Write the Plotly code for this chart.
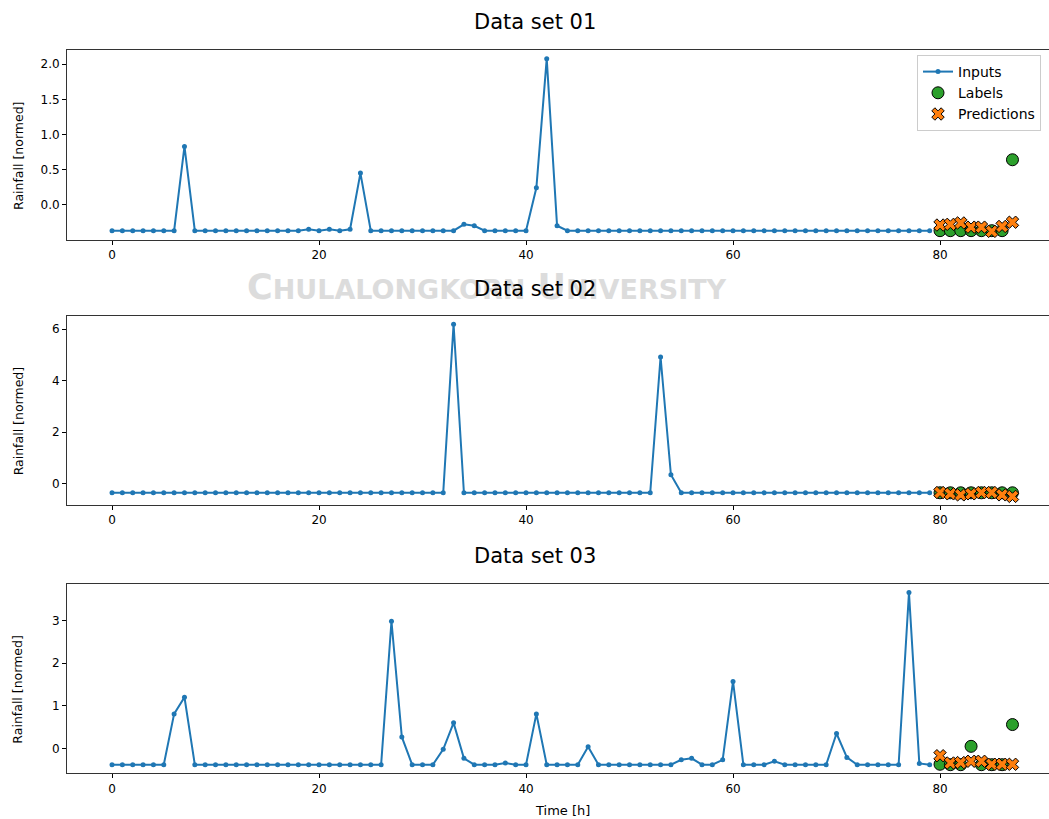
import plotly.graph_objects as go

# ---- data -------------------------------------------------------------
input_steps = list(range(0, 80))
label_steps = list(range(80, 88))

inputs_01 = [
    -0.37, -0.37, -0.37, -0.37, -0.37, -0.37, -0.37, 0.83, -0.37, -0.37,
    -0.37, -0.37, -0.37, -0.37, -0.37, -0.37, -0.37, -0.37, -0.37, -0.35,
    -0.37, -0.35, -0.37, -0.35, 0.45, -0.37, -0.37, -0.37, -0.37, -0.37,
    -0.37, -0.37, -0.37, -0.37, -0.28, -0.30, -0.37, -0.37, -0.37, -0.37,
    -0.37, 0.24, 2.08, -0.30, -0.37, -0.37, -0.37, -0.37, -0.37, -0.37,
    -0.37, -0.37, -0.37, -0.37, -0.37, -0.37, -0.37, -0.37, -0.37, -0.37,
    -0.37, -0.37, -0.37, -0.37, -0.37, -0.37, -0.37, -0.37, -0.37, -0.37,
    -0.37, -0.37, -0.37, -0.37, -0.37, -0.37, -0.37, -0.37, -0.37, -0.37,
]
labels_01 = [-0.37, -0.37, -0.37, -0.37, -0.37, -0.37, -0.37, 0.64]
preds_01 = [-0.29, -0.28, -0.26, -0.32, -0.32, -0.38, -0.31, -0.25]

inputs_02 = [
    -0.35, -0.35, -0.35, -0.35, -0.35, -0.35, -0.35, -0.35, -0.35, -0.35,
    -0.35, -0.35, -0.35, -0.35, -0.35, -0.35, -0.35, -0.35, -0.35, -0.35,
    -0.35, -0.35, -0.35, -0.35, -0.35, -0.35, -0.35, -0.35, -0.35, -0.35,
    -0.35, -0.35, -0.35, 6.19, -0.35, -0.35, -0.35, -0.35, -0.35, -0.35,
    -0.35, -0.35, -0.35, -0.35, -0.35, -0.35, -0.35, -0.35, -0.35, -0.35,
    -0.35, -0.35, -0.35, 4.92, 0.35, -0.35, -0.35, -0.35, -0.35, -0.35,
    -0.35, -0.35, -0.35, -0.35, -0.35, -0.35, -0.35, -0.35, -0.35, -0.35,
    -0.35, -0.35, -0.35, -0.35, -0.35, -0.35, -0.35, -0.35, -0.35, -0.35,
]
labels_02 = [-0.35, -0.35, -0.35, -0.35, -0.35, -0.35, -0.35, -0.35]
preds_02 = [-0.34, -0.39, -0.43, -0.39, -0.34, -0.34, -0.43, -0.49]

inputs_03 = [
    -0.38, -0.38, -0.38, -0.38, -0.38, -0.38, 0.81, 1.20, -0.38, -0.38,
    -0.38, -0.38, -0.38, -0.38, -0.38, -0.38, -0.38, -0.38, -0.38, -0.38,
    -0.38, -0.38, -0.38, -0.38, -0.38, -0.38, -0.38, 2.98, 0.27, -0.38,
    -0.38, -0.38, -0.02, 0.60, -0.23, -0.38, -0.38, -0.38, -0.34, -0.38,
    -0.38, 0.81, -0.38, -0.38, -0.38, -0.38, 0.04, -0.38, -0.38, -0.38,
    -0.38, -0.38, -0.38, -0.38, -0.38, -0.265, -0.23, -0.38, -0.38, -0.265,
    1.57, -0.38, -0.38, -0.38, -0.30, -0.38, -0.38, -0.38, -0.38, -0.38,
    0.35, -0.21, -0.38, -0.38, -0.38, -0.38, -0.38, 3.65, -0.35, -0.38,
]
labels_03 = [-0.37, -0.38, -0.38, 0.05, -0.38, -0.38, -0.38, 0.56]
preds_03 = [-0.17, -0.34, -0.33, -0.30, -0.30, -0.37, -0.37, -0.37]

panel_titles = ["Data set 01", "Data set 02", "Data set 03"]
y_ticks = [[0.0, 0.5, 1.0, 1.5, 2.0], [0, 2, 4, 6], [0, 1, 2, 3]]
y_ticktext = [["0.0", "0.5", "1.0", "1.5", "2.0"], ["0", "2", "4", "6"], ["0", "1", "2", "3"]]
x_ticks = [0, 20, 40, 60, 80]

series = [
    (inputs_01, labels_01, preds_01),
    (inputs_02, labels_02, preds_02),
    (inputs_03, labels_03, preds_03),
]

# ---- layout geometry (pixels of a 1049 x 819 page) --------------------
W, H = 1049, 819
x_left_px = 67
panel_px = [(50, 240), (315.7, 505), (584, 773.3)]   # top, bottom
title_px = [22, 289, 556]

BLUE = "#1f77b4"
GREEN = "#2ca02c"
ORANGE = "#ff7f0e"
FONT = "DejaVu Sans"

fig = go.Figure()

# faint institutional watermark behind the middle panel
fig.add_annotation(
    x=487 / W, y=1 - 287 / H, xref="paper", yref="paper",
    text="<b>C<span style='font-size:27px'>HULALONGKORN</span> U<span style='font-size:27px'>NIVERSITY</span></b>",
    showarrow=False, font=dict(family=FONT, size=35, color="#dcdcdc"),
    xanchor="center", yanchor="middle",
)

for i, (inp, lab, pred) in enumerate(series):
    n = i + 1
    xa = "x" if n == 1 else f"x{n}"
    ya = "y" if n == 1 else f"y{n}"
    show = n == 1
    fig.add_trace(go.Scatter(
        x=input_steps, y=inp, xaxis=xa, yaxis=ya, name="Inputs",
        mode="lines+markers", line=dict(color=BLUE, width=2),
        marker=dict(color=BLUE, size=5), showlegend=show,
    ))
    fig.add_trace(go.Scatter(
        x=label_steps, y=lab, xaxis=xa, yaxis=ya, name="Labels",
        mode="markers",
        marker=dict(color=GREEN, size=12, symbol="circle",
                    line=dict(color="black", width=1)),
        showlegend=show,
    ))
    fig.add_trace(go.Scatter(
        x=label_steps, y=pred, xaxis=xa, yaxis=ya, name="Predictions",
        mode="markers",
        marker=dict(color=ORANGE, size=11, symbol="x",
                    line=dict(color="black", width=1)),
        showlegend=show,
    ))

    top, bot = panel_px[i]
    pad = 0.05
    ymin = min(inp + lab + pred)
    ymax = max(inp + lab + pred)
    span = ymax - ymin
    x_unit = 10.35
    x0 = -4.35
    x1 = x0 + (W - x_left_px) / x_unit

    axis_font = dict(family=FONT, size=12, color="black")
    fig.update_layout(**{
        ("xaxis" if n == 1 else f"xaxis{n}"): dict(
            domain=[x_left_px / W, 1.0], anchor=ya, range=[x0, x1],
            tickvals=x_ticks, ticks="outside", ticklen=4, tickcolor="black",
            showline=True, mirror=True, linecolor="#333333", linewidth=1,
            showgrid=False, zeroline=False, tickfont=axis_font,
        ),
        ("yaxis" if n == 1 else f"yaxis{n}"): dict(
            domain=[1 - bot / H, 1 - top / H], anchor=xa,
            range=[ymin - pad * span, ymax + pad * span],
            tickvals=y_ticks[i], ticktext=y_ticktext[i],
            ticks="outside", ticklen=4, tickcolor="black",
            showline=True, linecolor="#333333", linewidth=1,
            showgrid=False, zeroline=False, tickfont=axis_font,
        ),
    })

    fig.add_annotation(
        x=535 / W, y=1 - title_px[i] / H, xref="paper", yref="paper",
        text=panel_titles[i], showarrow=False,
        font=dict(family=FONT, size=21, color="black"),
        xanchor="center", yanchor="middle",
    )
    fig.add_annotation(
        x=18 / W, y=1 - ((top + bot) / 2 + 11) / H, xref="paper", yref="paper",
        text="Rainfall [normed]", showarrow=False, textangle=-90,
        font=dict(family=FONT, size=12.5, color="black"),
        xanchor="center", yanchor="middle",
    )

fig.add_annotation(
    x=562 / W, y=1 - 810 / H, xref="paper", yref="paper",
    text="Time [h]", showarrow=False,
    font=dict(family=FONT, size=13, color="black"),
    xanchor="center", yanchor="middle",
)

fig.update_layout(
    width=W, height=H,
    margin=dict(l=0, r=0, t=0, b=0),
    paper_bgcolor="white", plot_bgcolor="white",
    legend=dict(
        x=917 / W, y=1 - 55 / H, xanchor="left", yanchor="top",
        bgcolor="rgba(255,255,255,0.8)", bordercolor="#cccccc", borderwidth=1,
        font=dict(family=FONT, size=14, color="black"),
        itemwidth=30, tracegroupgap=0,
    ),
)

fig.write_html("out.html")
